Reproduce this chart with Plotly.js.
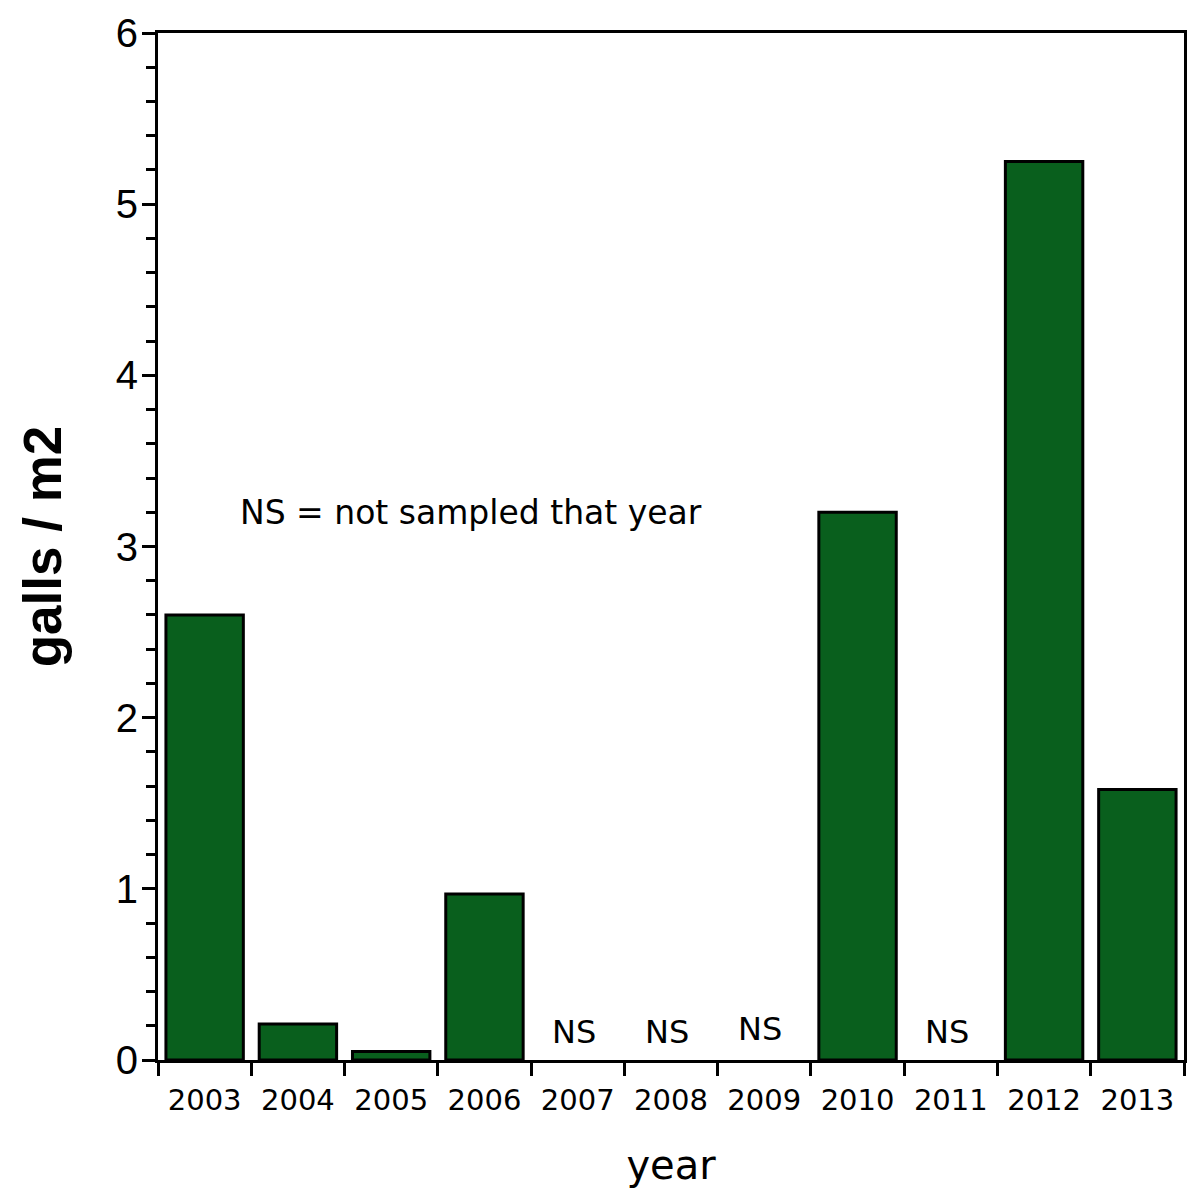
<!DOCTYPE html>
<html>
<head>
<meta charset="utf-8">
<script src="https://cdn.plot.ly/plotly-3.0.1.min.js"></script>
<style>
  html, body { margin: 0; padding: 0; background: #fff; }
  #chart { width: 1192px; height: 1188px; }
</style>
</head>
<body>
<div id="chart"></div>
<script>
// Gall density per sampling year
const years = ['2003', '2004', '2005', '2006', '2007', '2008', '2009', '2010', '2011', '2012', '2013'];
const gallsPerM2 = [2.6, 0.21, 0.05, 0.97, null, null, null, 3.2, null, 5.25, 1.58];
const notSampledYears = ['2007', '2008', '2009', '2011'];
const notSampledLabel = 'NS';
const noteText = 'NS = not sampled that year';

const trace = {
  type: 'bar',
  x: years,
  y: gallsPerM2,
  marker: { color: '#095f1d', line: { color: '#000', width: 3 } },
  hoverinfo: 'x+y'
};

// "NS" markers sit just above the baseline of each unsampled year
const nsAnnotations = notSampledYears.map(yr => ({
  x: years.indexOf(yr), y: 0, xref: 'x', yref: 'y',
  yanchor: 'bottom', xanchor: 'center',
  yshift: yr === '2009' ? 10 : 7, xshift: -4,
  text: notSampledLabel, showarrow: false,
  font: { family: 'DejaVu Sans', size: 32, color: '#000' }
}));

const layout = {
  width: 1192, height: 1188,
  margin: { l: 158, r: 8, t: 33, b: 128 },
  paper_bgcolor: '#fff', plot_bgcolor: '#fff',
  showlegend: false,
  bargap: 0.17,
  xaxis: {
    type: 'category',
    range: [-0.5, 10.5],
    showline: true, linecolor: '#000', linewidth: 3, mirror: true,
    ticks: 'outside', tickson: 'boundaries', ticklen: 13, tickwidth: 3, tickcolor: '#000',
    tickfont: { family: 'DejaVu Sans', size: 29, color: '#000' },
    ticklabelstandoff: 12,
    showgrid: false, zeroline: false,
    title: { text: 'year', font: { family: 'DejaVu Sans', size: 40, color: '#000' }, standoff: 40 }
  },
  yaxis: {
    range: [0, 6], dtick: 1, tick0: 0,
    showline: true, linecolor: '#000', linewidth: 3, mirror: true,
    ticks: 'outside', ticklen: 13, tickwidth: 3, tickcolor: '#000',
    minor: { dtick: 0.2, ticks: 'outside', ticklen: 9, tickwidth: 3, tickcolor: '#000', showgrid: false },
    tickfont: { family: 'Liberation Sans', size: 40, color: '#000' },
    ticklabelstandoff: -4,
    showgrid: false, zeroline: false,
    title: { text: 'galls / m2', font: { family: 'Liberation Sans', size: 53, color: '#000', weight: 'bold' }, standoff: 38 }
  },
  annotations: nsAnnotations.concat([{
    x: 0.305, y: 0.533, xref: 'paper', yref: 'paper',
    xanchor: 'center', yanchor: 'middle',
    text: noteText, showarrow: false,
    font: { family: 'DejaVu Sans', size: 33, color: '#000' }
  }])
};

Plotly.newPlot('chart', [trace], layout, { displayModeBar: false, staticPlot: true });
</script>
</body>
</html>
